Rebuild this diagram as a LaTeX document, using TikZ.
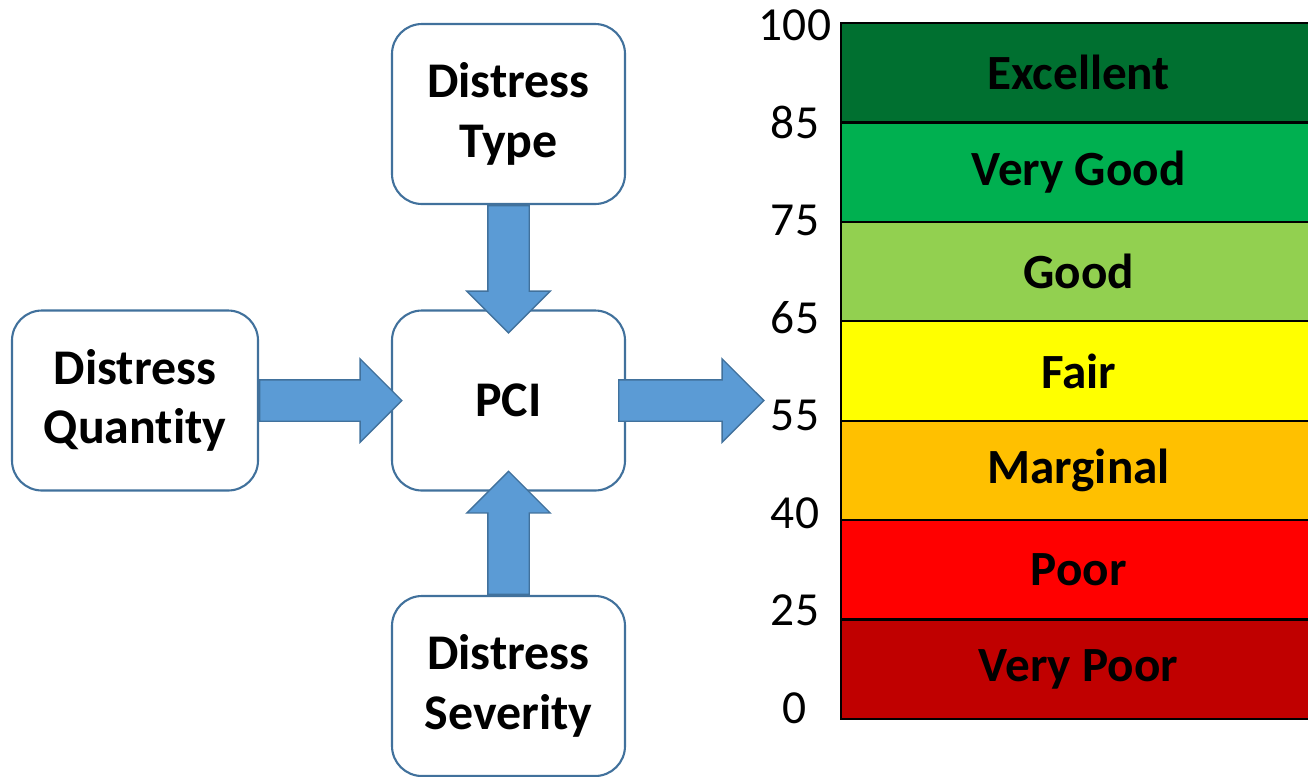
\documentclass[tikz,border=0pt]{standalone}
\usepackage{fontspec}
\setmainfont[Ligatures=NoCommon]{Carlito}
\usepackage{tikz}
\usetikzlibrary{shapes.arrows, calc}
\definecolor{boxline}{HTML}{41719C}
\definecolor{arrowblue}{HTML}{5B9BD5}
\definecolor{excel}{RGB}{0,112,48}
\definecolor{vgood}{HTML}{00B050}
\definecolor{good}{HTML}{92D050}
\definecolor{fair}{HTML}{FFFF00}
\definecolor{marginal}{HTML}{FFC000}
\definecolor{poor}{HTML}{FF0000}
\definecolor{vpoor}{HTML}{C00000}

\begin{document}
\begin{tikzpicture}[
    inbox/.style={draw=boxline, line width=0.6pt, rounded corners=0.3cm, fill=white, align=center,
        font=\fontsize{14.2}{17}\selectfont\bfseries, minimum width=2.33cm, minimum height=1.8cm},
    blockarr/.style={single arrow, draw=boxline, line width=0.4pt, fill=arrowblue, inner xsep=0pt,
        inner ysep=0.2cm, single arrow head extend=0.21cm, single arrow head indent=0pt, minimum width=0pt},
    band/.style={draw=black, line width=0.6pt, minimum width=4.75cm, minimum height=0.994cm,
        anchor=north west, font=\fontsize{14}{16}\selectfont\bfseries},
    tick/.style={font=\fontsize{13.5}{16}\selectfont}
    ]
    \useasboundingbox (0,0) rectangle (13.08,-7.76);

    \node[inbox] (type) at (5.085,-1.14) {Distress\\Type};
    \node[inbox] (pci) at (5.085,-4.005) {PCI};
    \node[inbox, minimum width=2.46cm] (qty) at (1.35,-4.005) {Distress\\Quantity};
    \node[inbox] (sev) at (5.085,-6.86) {Distress\\Severity};

    \node[blockarr, rotate=-90, anchor=tail, minimum height=1.27cm] (arrT) at (type.south) {};
    \node[blockarr, anchor=tail, minimum height=1.42cm] (arrQ) at (qty.east) {};
    \node[blockarr, rotate=90, anchor=tail, minimum height=1.23cm] (arrS) at (sev.north) {};
    \node[blockarr, anchor=tail, minimum height=1.45cm] (arrP) at ($(pci.east)+(-0.08,0)$) {};

    \foreach \lbl/\col [count=\i from 0] in {Excellent/excel, Very Good/vgood, Good/good, Fair/fair,
        Marginal/marginal, Poor/poor, Very Poor/vpoor}
        \node[band, fill=\col] (band\i) at (8.40,{-0.22-0.994*\i}) {\lbl};

    \foreach \v [count=\i from 0] in {100,85,75,65,55,40,25,0}
        \node[tick] (num\i) at (7.95,{-0.25-0.976*\i}) {\v};
\end{tikzpicture}
\end{document}
